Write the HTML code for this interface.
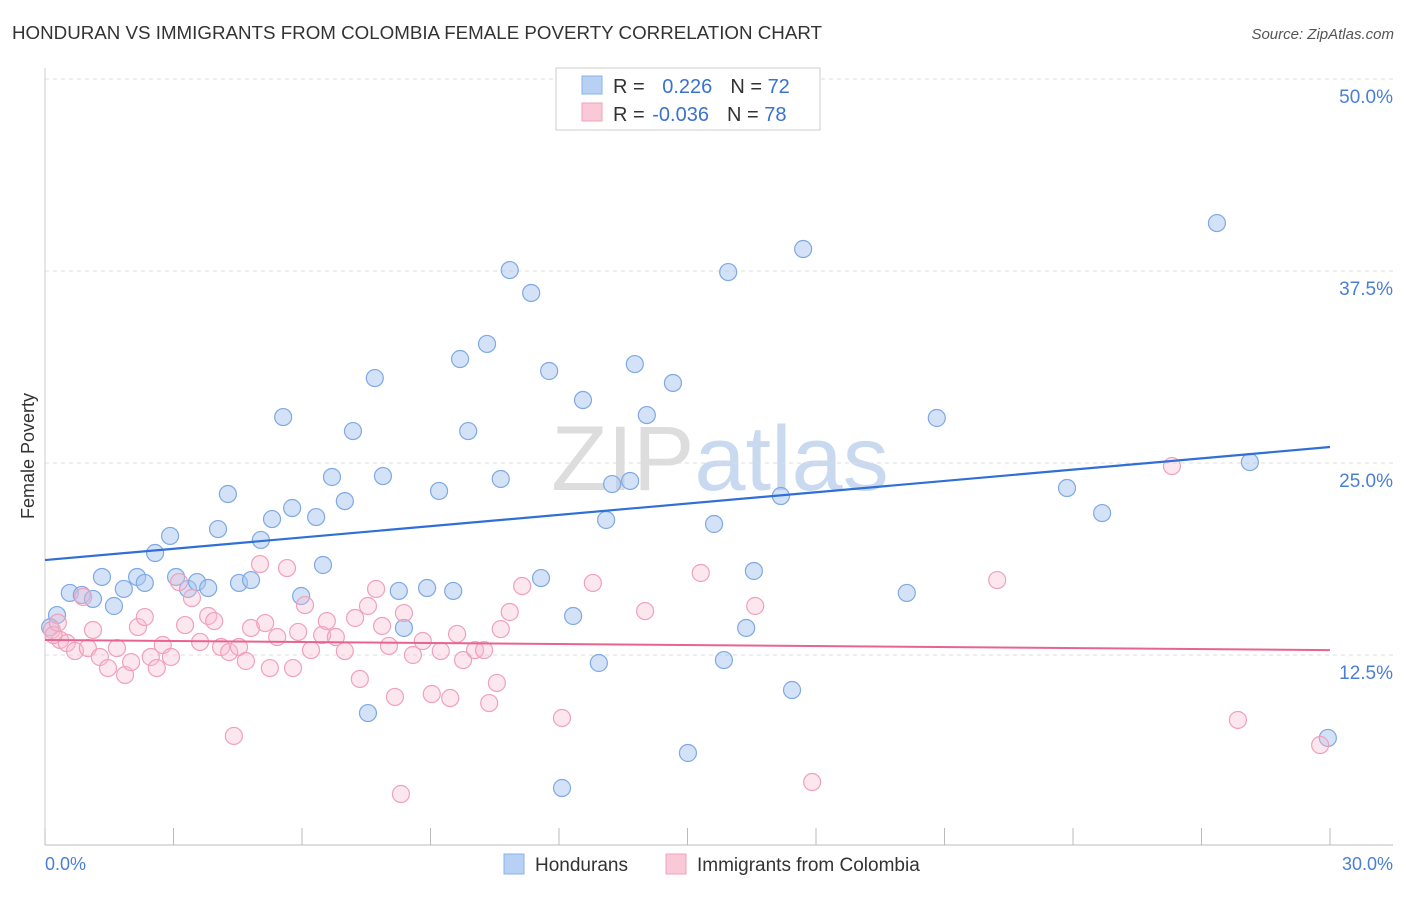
<!DOCTYPE html>
<html><head><meta charset="utf-8"><style>
body{margin:0;background:#fff;font-family:"Liberation Sans",sans-serif}
svg text{font-family:"Liberation Sans",sans-serif}
</style></head><body>
<svg id="chart" width="1406" height="892">
<text x="12" y="39" font-size="18" fill="#333" textLength="810" lengthAdjust="spacingAndGlyphs">HONDURAN VS IMMIGRANTS FROM COLOMBIA FEMALE POVERTY CORRELATION CHART</text>
<text x="1394" y="39" font-size="15" fill="#555" font-style="italic" text-anchor="end">Source: ZipAtlas.com</text>
<text x="720" y="490" font-size="92" fill="#ddd" text-anchor="middle" font-family="Liberation Serif">ZIP<tspan fill="#c9d9f0" font-family="Liberation Sans">atlas</tspan></text>
<g id="grid"></g>
<g id="axes"></g>
<g id="points"></g>
<g id="trends"></g>
<text transform="translate(34,456) rotate(-90)" font-size="18" fill="#333" text-anchor="middle">Female Poverty</text>
<text x="45" y="870" font-size="18" fill="#4a7fd6">0.0%</text>
<text x="1393" y="870" font-size="18" fill="#4a7fd6" text-anchor="end">30.0%</text>
<g>
<rect x="556" y="68" width="264" height="62" fill="#fff" stroke="#ccc"/>
<rect x="582" y="76" width="20" height="18" fill="#b7d0f3" stroke="#8ab4e8"/>
<rect x="582" y="103" width="20" height="18" fill="#f9c9d8" stroke="#f0a0bc"/>
<text x="613" y="93" font-size="20" fill="#333">R = <tspan fill="#3a72d0" dx="12">0.226</tspan><tspan dx="18">N = </tspan><tspan fill="#3a72d0">72</tspan></text>
<text x="613" y="121" font-size="20" fill="#333">R = <tspan fill="#3a72d0" dx="2">-0.036</tspan><tspan dx="18">N = </tspan><tspan fill="#3a72d0">78</tspan></text>
</g>
<g>
<rect x="504" y="854" width="20" height="20" fill="#b7d0f3" stroke="#8ab4e8"/>
<text x="535" y="871" font-size="19" fill="#333">Hondurans</text>
<rect x="666" y="854" width="20" height="20" fill="#f9c9d8" stroke="#f0a0bc"/>
<text x="697" y="871" font-size="19" fill="#333">Immigrants from Colombia</text>
</g>
</svg>
<script>
const yTicks=[12.5,25,37.5,50];
const yTickLabels=["12.5%","25.0%","37.5%","50.0%"];
const xTicks=[0,3,6,9,12,15,18,21,24,27,30];
const blueX=[0.28,0.58,0.86,1.12,1.33,1.61,1.84,2.15,2.33,2.57,2.92,3.06,3.34,3.55,3.81,4.04,4.27,4.53,4.81,5.04,5.30,5.56,5.77,5.98,6.33,6.49,6.70,7.00,7.19,7.54,7.70,7.89,8.26,8.38,8.92,9.20,9.53,9.69,9.88,10.32,10.64,10.85,11.35,11.58,11.77,12.33,12.56,12.93,13.10,13.24,13.66,13.77,14.05,14.66,15.01,15.62,15.85,15.95,16.37,16.55,17.18,17.44,17.70,20.12,20.82,23.86,24.68,27.36,28.13,29.95,12.07,0.12];
const blueY=[15.10,16.54,16.41,16.15,17.58,15.69,16.80,17.58,17.19,19.14,20.25,17.58,16.80,17.25,16.86,20.70,22.98,17.19,17.38,19.99,21.35,27.99,22.07,16.34,21.48,18.36,24.09,22.52,27.08,8.72,30.53,24.15,16.67,14.26,16.86,23.18,16.67,31.77,27.08,32.75,23.96,37.56,36.07,17.51,30.99,15.04,29.10,11.98,21.29,23.63,23.83,31.44,28.12,30.21,6.12,21.03,12.17,37.43,14.26,17.97,22.85,10.22,38.93,16.54,27.93,23.37,21.74,40.62,25.06,7.10,3.84,14.3];
const pinkX=[0.16,0.35,0.51,0.70,0.89,1.00,1.12,1.28,1.47,1.68,1.87,2.01,2.17,2.33,2.47,2.61,2.75,2.94,3.13,3.27,3.43,3.62,3.81,3.95,4.11,4.30,4.41,4.53,4.69,4.81,5.02,5.14,5.25,5.42,5.65,5.79,5.91,6.07,6.21,6.47,6.58,6.79,7.00,7.24,7.35,7.54,7.73,7.87,8.03,8.17,8.31,8.38,8.59,8.82,9.03,9.24,9.46,9.62,9.76,10.04,10.25,10.37,10.55,10.64,10.85,11.14,12.07,12.79,14.01,15.31,16.58,17.91,22.23,26.31,27.85,29.77,0.2,0.3];
const pinkY=[14.13,13.48,13.28,12.76,16.28,12.95,14.13,12.37,11.65,12.95,11.20,12.04,14.32,14.97,12.37,11.65,13.15,12.37,17.25,14.45,16.21,13.35,15.04,14.71,13.02,12.69,7.23,13.02,12.11,14.26,18.42,14.58,11.65,13.67,18.16,11.65,14.00,15.75,12.82,13.80,14.71,13.67,12.76,14.91,10.94,15.69,16.80,14.39,13.09,9.77,3.45,15.23,12.50,13.41,9.96,12.76,9.70,13.87,12.17,12.82,12.82,9.37,10.68,14.19,15.30,16.99,8.40,17.19,15.36,17.84,15.69,4.23,17.38,24.80,8.27,6.64,13.8,14.6];
const blueTrend=[18.68,26.04];
const pinkTrend=[13.48,12.82];
const NS="http://www.w3.org/2000/svg";
const X0=45,X1=1330,YB=847;
function sx(v){return X0+(v/30)*(X1-X0);}
function sy(v){return YB-(v/12.5)*192;}
function mk(tag,attrs,parent){const e=document.createElementNS(NS,tag);for(const k in attrs)e.setAttribute(k,attrs[k]);parent.appendChild(e);return e;}
const grid=document.getElementById('grid'),axes=document.getElementById('axes'),pts=document.getElementById('points'),tr=document.getElementById('trends');
yTicks.forEach((t,i)=>{
 const l=mk('line',{x1:X0,x2:1393,y1:sy(t),y2:sy(t),stroke:'#ddd','stroke-dasharray':'4,4'},grid);
 
 
 const tx=mk('text',{x:1393,y:sy(t)+24,'font-size':19,fill:'#4a7fd6','text-anchor':'end'},grid);
 tx.textContent=yTickLabels[i];
 
 
});
const ax=mk('line',{x1:X0,x2:1393,y1:845,y2:845,stroke:'#bbb'},axes);


const ay=mk('line',{x1:X0,x2:X0,y1:68,y2:845,stroke:'#ccc'},axes);


xTicks.forEach(t=>{
 const l=mk('line',{x1:sx(t),x2:sx(t),y1:828,y2:845,stroke:'#bbb'},axes);
 
 
});
blueX.forEach((x,i)=>{
 const c=mk('circle',{cx:sx(x),cy:sy(blueY[i]),r:8.5,fill:'rgba(168,198,240,0.5)',stroke:'#7fa9e3','stroke-width':1.2},pts);
 
 
});
pinkX.forEach((x,i)=>{
 const c=mk('circle',{cx:sx(x),cy:sy(pinkY[i]),r:8.5,fill:'rgba(248,185,205,0.35)',stroke:'#f0a0bc','stroke-width':1.2},pts);
 
 
});
const bl=mk('line',{x1:sx(0),x2:sx(30),y1:sy(blueTrend[0]),y2:sy(blueTrend[1]),stroke:'#2f6fd6','stroke-width':2.2},tr);


const pl=mk('line',{x1:sx(0),x2:sx(30),y1:sy(pinkTrend[0]),y2:sy(pinkTrend[1]),stroke:'#e8648f','stroke-width':2},tr);


</script>
</body></html>
